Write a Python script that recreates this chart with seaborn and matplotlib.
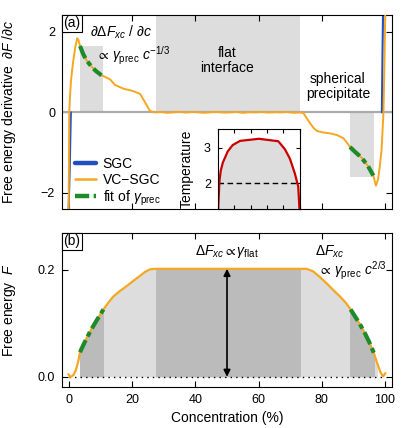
import numpy as np
import pandas as pd
import matplotlib
matplotlib.use("Agg")
import matplotlib.pyplot as plt
from matplotlib.lines import Line2D
from matplotlib.patches import Rectangle
import seaborn as sns

# ---------------- data ----------------
sgc_left_c = [0.6, 0.2, -0.2]
sgc_left_d = [0.0, -1.5, -2.7]
sgc_right_c = [99.0, 99.2, 99.4]
sgc_right_d = [0.0, 1.5, 2.7]

vc_c = [-0.1, 0.0, 0.1, 0.3, 0.6, 1.0, 1.4, 2.0, 2.6, 3.0, 3.5, 4.5, 5.5, 7.0, 8.5,
        10.3, 11.5, 13.0, 14.6, 17.2, 20.3, 22.5, 24.0, 25.6, 27.0,
        29, 31, 33, 35, 37, 39, 41, 43, 45, 47, 49, 51, 53, 55, 57, 59, 61, 63, 65,
        67, 69, 71, 73,
        74.2, 75.0, 76.3, 77.3, 78.4, 80.5, 82.5, 84.7, 86.8, 88.4, 88.9, 90.5, 92.5,
        94.5, 96.3, 97.1, 97.8, 98.4, 98.9, 99.5, 99.8, 100.1]
vc_d = [-2.7, -1.2, 0.0, 0.35, 0.75, 1.05, 1.3, 1.62, 1.84, 1.80, 1.65, 1.45, 1.30, 1.15, 1.03,
        0.92, 0.88, 0.82, 0.68, 0.59, 0.53, 0.46, 0.26, 0.04, 0.0,
        0.01, -0.01, 0.0, 0.015, -0.005, 0.01, 0.0, -0.01, 0.005, 0.01, -0.005, 0.0,
        0.01, -0.01, 0.005, 0.0, 0.01, -0.005, 0.005, 0.0, 0.01, -0.01, 0.0,
        -0.02, -0.12, -0.27, -0.38, -0.46, -0.50, -0.52, -0.56, -0.64, -0.80, -0.86,
        -0.98, -1.12, -1.32, -1.57, -1.82, -1.66, -1.30, -0.92, 0.0, 1.2, 2.7]

fitd_left_c = [3.5, 4.5, 5.5, 7.0, 8.5, 10.3]
fitd_left_d = [1.65, 1.45, 1.30, 1.15, 1.03, 0.92]
fitd_right_c = [88.9, 90.5, 92.5, 94.5, 96.3]
fitd_right_d = [-0.86, -0.98, -1.12, -1.32, -1.57]

F_c = [-0.2, 0.4, 0.9, 1.5, 2.2, 2.9, 3.5, 4.5, 5.5, 7.0, 8.5, 10.9, 12.5, 14.0, 16.0,
       18.3, 20.5, 22.5, 24.0, 25.6, 27.5, 35, 45, 55, 65, 73, 75.2, 77.3, 79.5, 81.5,
       83.5, 85.8, 87.5, 89.1, 90.5, 92.0, 93.5, 95.0, 96.5, 97.2, 97.9, 98.6, 99.3,
       99.7, 100.1]
F_v = [0.005, 0.0, 0.001, 0.004, 0.013, 0.028, 0.046, 0.059, 0.071, 0.088, 0.103, 0.126,
       0.139, 0.150, 0.160, 0.170, 0.180, 0.189, 0.196, 0.201, 0.202, 0.202, 0.202, 0.202,
       0.202, 0.202, 0.202, 0.197, 0.186, 0.175, 0.163, 0.150, 0.139, 0.126, 0.113, 0.099,
       0.083, 0.065, 0.044, 0.031, 0.019, 0.008, 0.001, 0.003, 0.007]

fitF_left_c = [3.5, 4.5, 5.5, 7.0, 8.5, 10.9]
fitF_left_v = [0.046, 0.059, 0.071, 0.088, 0.103, 0.126]
fitF_right_c = [89.1, 90.5, 92.0, 93.5, 95.0, 96.5]
fitF_right_v = [0.126, 0.113, 0.099, 0.083, 0.065, 0.044]

T_c = [0.3, 2, 3.5, 6, 12, 18, 27, 50, 73.7, 81.8, 87.9, 93.9, 98, 99.5]
T_v = [1.26, 2.07, 2.35, 2.58, 2.9, 3.08, 3.2, 3.26, 3.19, 2.96, 2.69, 2.27, 1.9, 1.26]
T_ref = 2.0

prec_left = [3.5, 10.8]
prec_right = [89.0, 96.5]
flat_region = [27.5, 73.1]
fill_span = [3.5, 97.4]
prec_left_height = 1.65
prec_right_height = -1.6
F_flat = 0.202

x_ticks = [0, 20, 40, 60, 80, 100]
top_yticks = [-2, 0, 2]
bot_yticks = [0.0, 0.2]
inset_yticks = [2, 3]

# ---------------- style ----------------
sns.set_theme(style="ticks")
plt.rcParams.update({
    "font.family": ["Liberation Sans", "DejaVu Sans"],
    "mathtext.fontset": "custom",
    "mathtext.rm": "Liberation Sans",
    "mathtext.it": "Liberation Sans:italic",
    "mathtext.bf": "Liberation Sans:bold",
    "mathtext.fallback": "stixsans",
    "xtick.direction": "in", "ytick.direction": "in",
    "xtick.top": True, "ytick.right": True,
    "xtick.major.size": 4, "ytick.major.size": 4,
    "xtick.major.width": 0.8, "ytick.major.width": 0.8,
    "xtick.major.pad": 5, "ytick.major.pad": 5,
    "axes.edgecolor": "black", "axes.linewidth": 0.8,
    "xtick.color": "black", "ytick.color": "black",
    "xtick.labelsize": 9, "ytick.labelsize": 9,
    "axes.labelsize": 10, "text.color": "black", "axes.labelcolor": "black",
})

BLUE = "#2050c0"
ORANGE = "#f5a623"
GREEN = "#1e8b2a"
LIGHT = "#dddddd"
DARK = "#bbbbbb"
RED = "#cc0000"
DASHDOT = (0, (3.2, 1.0, 1.2, 1.0))

fig = plt.figure(figsize=(4.15, 4.28), dpi=100)
ax1 = fig.add_axes([0.1494, 0.5117, 0.7952, 0.4533])
ax2 = fig.add_axes([0.1494, 0.0958, 0.7952, 0.3598])

xlim = (-2.2, 102.2)

# ---------- panel (a) ----------
ax1.fill_between(prec_left, 0, prec_left_height, color=LIGHT, lw=0, zorder=0)
ax1.fill_between(prec_right, 0, prec_right_height, color=LIGHT, lw=0, zorder=0)
ax1.fill_between(flat_region, 0, 3, color=LIGHT, lw=0, zorder=0)
ax1.axhline(0, color="#aaaaaa", lw=1.6, zorder=1)

sns.lineplot(x=sgc_left_c, y=sgc_left_d, ax=ax1, color=BLUE, lw=1.5, sort=False,
             estimator=None, zorder=2)
sns.lineplot(x=sgc_right_c, y=sgc_right_d, ax=ax1, color=BLUE, lw=1.5, sort=False,
             estimator=None, zorder=2)
sns.lineplot(x=vc_c, y=vc_d, ax=ax1, color=ORANGE, lw=1.4, sort=False,
             estimator=None, zorder=3)
sns.lineplot(x=fitd_left_c, y=fitd_left_d, ax=ax1, color=GREEN, lw=3.0, sort=False,
             estimator=None, zorder=4, linestyle=DASHDOT)
sns.lineplot(x=fitd_right_c, y=fitd_right_d, ax=ax1, color=GREEN, lw=3.0, sort=False,
             estimator=None, zorder=4, linestyle=DASHDOT)

ax1.set_xlim(*xlim)
ax1.set_ylim(-2.4, 2.42)
ax1.set_xticks(x_ticks)
ax1.set_xticklabels([])
ax1.set_yticks(top_yticks)
ax1.set_ylabel(r"Free energy derivative  $\partial F\ /\partial c$")
ax1.yaxis.set_label_coords(-0.133, 0.5)

ax1.text(0.004, 0.993, "(a)", transform=ax1.transAxes, ha="left", va="top", fontsize=10,
         bbox=dict(boxstyle="square,pad=0.1", fc="white", ec="black", lw=0.8), zorder=6)
ax1.text(16.5, 1.99, r"$\partial\Delta F_{xc}\ /\ \partial c$", ha="center", va="center",
         fontsize=10, zorder=6)
ax1.text(20.3, 1.40, r"$\propto\,\gamma_{\mathrm{prec}}\ c^{-1/3}$", ha="center",
         va="center", fontsize=10, zorder=6)
ax1.text(50, 1.28, "flat\ninterface", ha="center", va="center", fontsize=10,
         linespacing=1.1, zorder=6)
ax1.text(85.1, 0.65, "spherical\nprecipitate", ha="center", va="center", fontsize=10,
         linespacing=1.1, zorder=6)

handles = [Line2D([], [], color=BLUE, lw=3.2),
           Line2D([], [], color=ORANGE, lw=1.8),
           Line2D([], [], color=GREEN, lw=3.2, linestyle=DASHDOT)]
labels = ["SGC", "VC\u2212SGC", r"fit of $\gamma_{\mathrm{prec}}$"]
ax1.legend(handles, labels, loc="lower left", bbox_to_anchor=(0.035, 0.0),
           frameon=False, fontsize=10, handlelength=1.5, handletextpad=0.5,
           labelspacing=0.12, borderpad=0.1, borderaxespad=0.0)

# ---------- inset ----------
axi = fig.add_axes([0.525, 0.5117, 0.1976, 0.187])
axi.fill_between(T_c, 1.0, T_v, color=LIGHT, lw=0, zorder=0)
axi.axhline(T_ref, color="black", lw=1.0, ls=(0, (4, 2.5)), zorder=1)
sns.lineplot(x=T_c, y=T_v, ax=axi, color=RED, lw=1.6, sort=False, estimator=None, zorder=2)
axi.set_xlim(0, 100)
axi.set_ylim(1.26, 3.54)
axi.set_xticks(x_ticks)
axi.set_xticklabels([])
axi.set_yticks(inset_yticks)
axi.tick_params(length=3)
axi.set_ylabel("Temperature", fontsize=10)
axi.yaxis.set_label_coords(-0.29, 0.5)
axi.set_facecolor("white")

# ---------- panel (b) ----------
light_fill = ax2.fill_between(F_c, 0, F_v, color=LIGHT, lw=0, zorder=0)
light_fill.set_clip_path(Rectangle((fill_span[0], -1), fill_span[1] - fill_span[0], 2,
                                   transform=ax2.transData))
for reg in (prec_left, flat_region, prec_right):
    dark_fill = ax2.fill_between(F_c, 0, F_v, color=DARK, lw=0, zorder=0.5)
    dark_fill.set_clip_path(Rectangle((reg[0], -1), reg[1] - reg[0], 2,
                                      transform=ax2.transData))

ax2.plot([0, 100], [0, 0], color="black", lw=1.0, ls=(0, (1, 3)), zorder=1)
sns.lineplot(x=F_c, y=F_v, ax=ax2, color=ORANGE, lw=1.6, sort=False, estimator=None,
             zorder=3)
sns.lineplot(x=fitF_left_c, y=fitF_left_v, ax=ax2, color=GREEN, lw=3.0, sort=False,
             estimator=None, zorder=4, linestyle=DASHDOT)
sns.lineplot(x=fitF_right_c, y=fitF_right_v, ax=ax2, color=GREEN, lw=3.0, sort=False,
             estimator=None, zorder=4, linestyle=DASHDOT)

ax2.annotate("", xy=(50, 0.0), xytext=(50, F_flat),
             arrowprops=dict(arrowstyle="<|-|>", color="black", lw=1.2,
                             mutation_scale=10, shrinkA=0, shrinkB=0), zorder=5)

ax2.set_xlim(*xlim)
ax2.set_ylim(-0.019, 0.269)
ax2.set_xticks(x_ticks)
ax2.set_yticks(bot_yticks)
ax2.set_yticklabels(["0.0", "0.2"])
ax2.set_xlabel("Concentration (%)", labelpad=4)
ax2.set_ylabel(r"Free energy  $F$")
ax2.yaxis.set_label_coords(-0.133, 0.5)

ax2.text(0.004, 0.991, "(b)", transform=ax2.transAxes, ha="left", va="top", fontsize=10,
         bbox=dict(boxstyle="square,pad=0.1", fc="white", ec="black", lw=0.8), zorder=6)
ax2.text(50, 0.234, r"$\Delta F_{xc} \propto \gamma_{\mathrm{flat}}$", ha="center",
         va="center", fontsize=10, zorder=6)
ax2.text(77.8, 0.234, r"$\Delta F_{xc}$", ha="left", va="center", fontsize=10, zorder=6)
ax2.text(89.8, 0.199, r"$\propto\,\gamma_{\mathrm{prec}}\ c^{2/3}$", ha="center",
         va="center", fontsize=10, zorder=6)

fig.savefig("out.png", dpi=100)
